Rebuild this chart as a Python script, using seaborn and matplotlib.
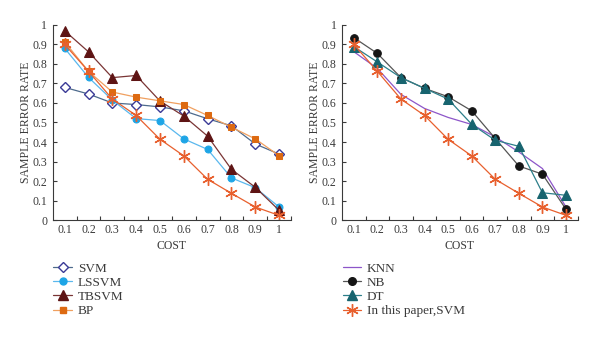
import matplotlib
matplotlib.use("Agg")
import matplotlib.pyplot as plt
from matplotlib.lines import Line2D
from matplotlib.ticker import FixedLocator
import seaborn as sns
import pandas as pd

cost = [0.1, 0.2, 0.3, 0.4, 0.5, 0.6, 0.7, 0.8, 0.9, 1.0]
tick_labels = ["0.1", "0.2", "0.3", "0.4", "0.5", "0.6", "0.7", "0.8", "0.9", "1"]

svm = [0.68, 0.646, 0.60, 0.592, 0.58, 0.56, 0.519, 0.483, 0.39, 0.338]
lssvm = [0.88, 0.731, 0.615, 0.52, 0.51, 0.416, 0.362, 0.216, 0.166, 0.067]
tbsvm = [0.97, 0.862, 0.73, 0.741, 0.61, 0.533, 0.43, 0.26, 0.168, 0.05]
bp = [0.913, 0.762, 0.656, 0.63, 0.611, 0.592, 0.536, 0.476, 0.416, 0.33]
ours = [0.90, 0.762, 0.62, 0.536, 0.414, 0.329, 0.209, 0.137, 0.067, 0.024]

knn = [0.863, 0.777, 0.644, 0.572, 0.526, 0.49, 0.426, 0.349, 0.264, 0.067]
nb = [0.935, 0.854, 0.73, 0.675, 0.632, 0.56, 0.418, 0.277, 0.235, 0.055]
dt = [0.889, 0.81, 0.73, 0.675, 0.62, 0.491, 0.409, 0.378, 0.14, 0.127]

sns.set_theme(style="ticks")
plt.rcParams["font.family"] = ["Liberation Serif", "DejaVu Serif"]
plt.rcParams["axes.linewidth"] = 0.8

TXT = "#3a3a3a"

fig = plt.figure(figsize=(6.0, 3.37), dpi=100)
ax1 = fig.add_axes([0.088, 0.347, 0.397, 0.579])
ax2 = fig.add_axes([0.570, 0.347, 0.393, 0.579])

STAR = (6, 2, 0)

styles_left = [
    ("SVM", svm, dict(color="#4d6a8c", marker="D", ms=5, mfc="white", mec="#3a3a96", mew=1.0)),
    ("LSSVM", lssvm, dict(color="#5ab8ee", marker="o", ms=5, mfc="#1ea5e6", mec="#1ea5e6")),
    ("TBSVM", tbsvm, dict(color="#7a3535", marker="^", ms=7, mfc="#5e1414", mec="#5e1414")),
    ("BP", bp, dict(color="#f0a060", marker="s", ms=5, mfc="#dd6a12", mec="#dd6a12")),
]
ours_style = dict(color="#e8602e", marker=STAR, ms=9, mec="#e8602e", mew=1.0)

styles_right = [
    ("KNN", knn, dict(color="#8d56c9", marker=None)),
    ("NB", nb, dict(color="#555555", marker="o", ms=5.5, mfc="#151515", mec="#151515")),
    ("DT", dt, dict(color="#2c7f8a", marker="^", ms=7, mfc="#17646f", mec="#17646f")),
    ("In this paper,SVM", ours, ours_style),
]


def draw(ax, styles, extra=None):
    handles = []
    for name, vals, st in styles:
        df = pd.DataFrame({"COST": cost, "RATE": vals})
        sns.lineplot(data=df, x="COST", y="RATE", ax=ax, lw=0.9, legend=False, **st)
        handles.append(Line2D([], [], lw=0.9, label=name, **st))
    if extra is not None:
        df = pd.DataFrame({"COST": cost, "RATE": extra[0]})
        sns.lineplot(data=df, x="COST", y="RATE", ax=ax, lw=0.9, legend=False, **extra[1])

    ax.set_xlim(0.05, 1.05)
    ax.set_ylim(0, 1)
    ax.xaxis.set_major_locator(FixedLocator(cost))
    ax.set_xticklabels(tick_labels)
    ax.xaxis.set_minor_locator(FixedLocator([0.15 + 0.1 * i for i in range(10)]))
    ax.set_yticks([i / 10 for i in range(11)])
    ax.set_yticklabels(["0"] + [f"0.{i}" for i in range(1, 10)] + ["1"])
    ax.tick_params(axis="x", which="major", length=0, pad=3, labelsize=8.5, colors=TXT)
    ax.tick_params(axis="x", which="minor", direction="in", length=3, width=0.8, color=TXT)
    ax.tick_params(axis="y", which="major", direction="in", length=3, width=0.8, pad=4,
                   labelsize=8.5, colors=TXT)
    ax.tick_params(axis="y", which="minor", length=0)
    for s in ("top", "right"):
        ax.spines[s].set_visible(False)
    for s in ("left", "bottom"):
        ax.spines[s].set_color(TXT)
    ax.set_xlabel("COST", fontsize=8.5, color=TXT)
    ax.set_ylabel("SAMPLE ERROR RATE", fontsize=8.5, color=TXT)
    ax.xaxis.set_label_coords(0.5, -0.1)
    ax.yaxis.set_label_coords(-0.088, 0.5)

    ax.legend(handles=handles, loc="upper left", bbox_to_anchor=(-0.02, -0.19),
              frameon=False, fontsize=9.5, handlelength=1.4, handletextpad=0.45,
              labelspacing=0.15, borderaxespad=0, labelcolor=TXT)


draw(ax1, styles_left, extra=(ours, ours_style))
draw(ax2, styles_right)

fig.savefig("out.png", dpi=100, facecolor="white")
